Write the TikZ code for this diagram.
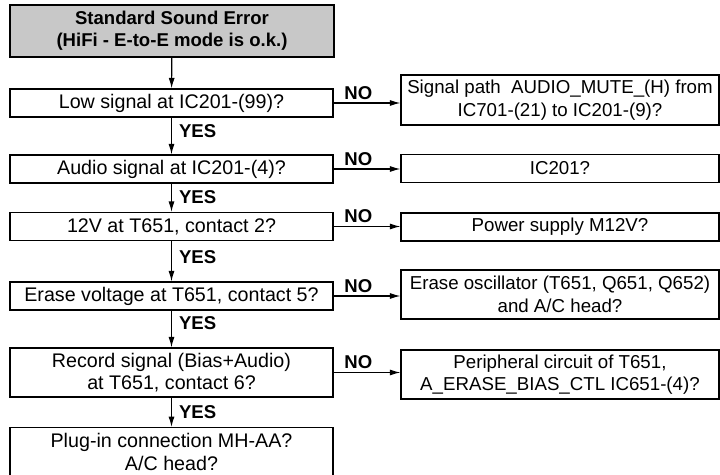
\documentclass[tikz,border=0pt]{standalone}
\usepackage{fontspec}
\setmainfont{Liberation Sans}
\usetikzlibrary{arrows.meta}
\definecolor{titlegray}{RGB}{200,200,200}

\begin{document}
\begin{tikzpicture}[
  >={Latex[length=2.6mm,width=1.5mm]},
  txt/.style={font=\fontsize{14}{16}\selectfont},
  startbox/.style={draw,line width=1.5pt,fill=titlegray,align=center,
                   font=\fontsize{13.2}{15.5}\selectfont\bfseries,
                   minimum width=8.1cm,minimum height=1.3cm,inner sep=0pt},
  qbox/.style={draw,line width=0.9pt,txt,align=center,
               minimum width=8.075cm,minimum height=0.7cm,inner sep=0pt},
  ansbox/.style={draw,line width=0.9pt,align=center,
                 font=\fontsize{13.3}{16}\selectfont,
                 minimum width=7.95cm,minimum height=0.7cm,inner sep=0pt},
  flow/.style={->,line width=0.8pt},
  lbl/.style={font=\fontsize{13.2}{14}\selectfont\bfseries,inner sep=2pt},
]
  \useasboundingbox (0,0) rectangle (18,-11.875);

  % --- start ---
  \node[startbox] (start) at (4.3,-0.775)
    {Standard Sound Error\\(HiFi - E-to-E mode is o.k.)};

  % --- questions ---
  \node[qbox] (q1) at (4.2875,-2.575) {Low signal at IC201-(99)?};
  \node[qbox] (q2) at (4.2875,-4.225) {Audio signal at IC201-(4)?};
  \node[qbox] (q3) at (4.2875,-5.6625) {12V at T651, contact 2?};
  \node[qbox] (q4) at (4.2875,-7.4) {Erase voltage at T651, contact 5?};
  \node[qbox,minimum height=1.225cm] (q5) at (4.2875,-9.3125)
    {Record signal (Bias+Audio)\\at T651, contact 6?};
  \node[qbox,minimum height=1.45cm,anchor=north,text depth=0.25cm] (q6) at (4.2875,-10.675)
    {Plug-in connection MH-AA?\\A/C head?};

  % --- checks on NO ---
  \node[ansbox,minimum height=1.25cm] (a1) at (14.0,-2.5)
    {Signal path \ AUDIO\_MUTE\_(H) from\\IC701-(21) to IC201-(9)?};
  \node[ansbox] (a2) at (14.0,-4.2125) {IC201?};
  \node[ansbox] (a3) at (14.0,-5.675) {Power supply M12V?};
  \node[ansbox,minimum height=1.225cm] (a4) at (14.0,-7.3625)
    {Erase oscillator (T651, Q651, Q652)\\and A/C head?};
  \node[ansbox,minimum height=1.225cm] (a5) at (14.0,-9.3625)
    {Peripheral circuit of T651,\\A\_ERASE\_BIAS\_CTL IC651-(4)?};

  % --- YES path ---
  \draw[flow] (start) -- (q1);
  \draw[flow] (q1) -- node[lbl,right,xshift=3pt,pos=0.38] {YES} (q2);
  \draw[flow] (q2) -- node[lbl,right,xshift=3pt,pos=0.47] {YES} (q3);
  \draw[flow] (q3) -- node[lbl,right,xshift=3pt,pos=0.4] {YES} (q4);
  \draw[flow] (q4) -- node[lbl,right,xshift=3pt,pos=0.34] {YES} (q5);
  \draw[flow] (q5) -- node[lbl,right,xshift=3pt,pos=0.48] {YES} (q6);

  % --- NO branches ---
  \foreach \i in {1,...,5}
    \draw[flow] (q\i.east) -- node[lbl,above,pos=0.37] {NO} (q\i.east -| a\i.west);

\end{tikzpicture}
\end{document}
